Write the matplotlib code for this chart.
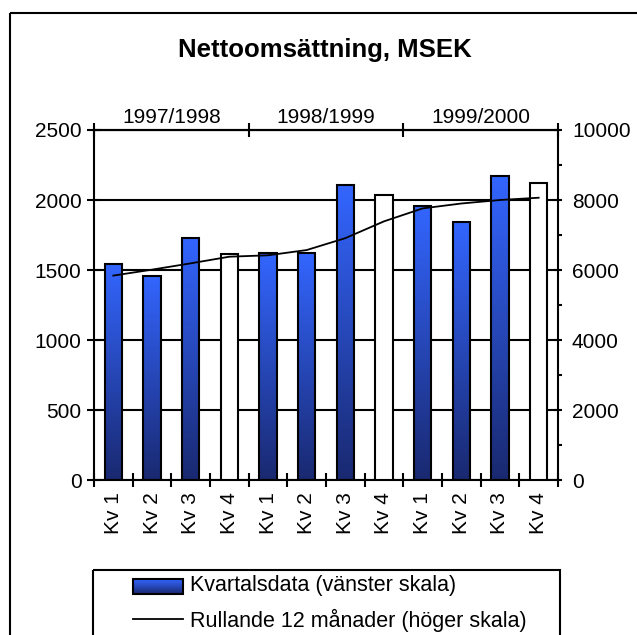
import numpy as np
import matplotlib
matplotlib.use('Agg')
import matplotlib.pyplot as plt
from matplotlib.patches import Rectangle
from matplotlib.ticker import MultipleLocator

plt.rcParams['font.family'] = ['Liberation Sans', 'DejaVu Sans']

quarters = ['Kv 1', 'Kv 2', 'Kv 3', 'Kv 4'] * 3
years = ['1997/1998', '1998/1999', '1999/2000']
kvartal = [1545, 1460, 1730, 1615, 1620, 1620, 2105, 2035, 1960, 1845, 2170, 2120]
rullande = [5840, 6010, 6190, 6380, 6420, 6570, 6910, 7390, 7760, 7900, 8000, 8065]

W, H = 637, 635
fig = plt.figure(figsize=(W / 100, H / 100), dpi=100)

# gradient used for the blue bars (top bright -> bottom dark)
top_c = np.array([0.20, 0.40, 1.00])
bot_c = np.array([0.10, 0.16, 0.44])
t = np.linspace(0, 1, 256)[:, None, None]
grad = top_c * (1 - t) + bot_c * t

# overlay axes in pixel coords for frame and legend
ax0 = fig.add_axes([0, 0, 1, 1], zorder=-1)
ax0.set_xlim(0, W)
ax0.set_ylim(H, 0)
ax0.axis('off')
ax0.add_patch(Rectangle((10, 13), 700, 700, fill=False, lw=1.5, ec='black'))
ax0.add_patch(Rectangle((93, 570), 467, 100, fill=False, lw=1.5, ec='black'))
ax0.imshow(grad, extent=[133, 183, 594, 579], aspect='auto', origin='upper', zorder=2)
ax0.add_patch(Rectangle((133, 579), 50, 15, fill=False, lw=1.5, ec='black', zorder=3))
ax0.plot([133, 183], [619, 619], color='black', lw=1.3)
ax0.text(190, 586, 'Kvartalsdata (vänster skala)', fontsize=15.5, va='center')
ax0.text(190, 620, 'Rullande 12 månader (höger skala)', fontsize=15.5, va='center')
ax0.set_xlim(0, W)
ax0.set_ylim(H, 0)

fig.text(325 / W, 1 - 50 / H, 'Nettoomsättning, MSEK', fontsize=18.5,
         fontweight='bold', ha='center', va='center')

ax = fig.add_axes([94 / W, 1 - 480 / H, (558 - 94) / W, 350 / H])
x = np.arange(len(kvartal))
bars = ax.bar(x, kvartal, width=0.45, edgecolor='black', lw=1.5, zorder=3,
              color=['none' if q != 'Kv 4' else 'white' for q in quarters])
for b, q in zip(bars, quarters):
    if q == 'Kv 4':
        continue
    x0 = b.get_x()
    im = ax.imshow(grad, extent=[x0, x0 + b.get_width(), 0, b.get_height()],
                   aspect='auto', origin='upper', zorder=2.5)
    im.set_clip_path(b)

ax.set_xlim(-0.5, len(kvartal) - 0.5)
ax.set_ylim(0, 2500)
ax.set_yticks(np.arange(0, 2501, 500))
ax.yaxis.grid(True, color='black', lw=1.5)
ax.set_axisbelow(True)
ax.set_xticks(np.arange(-0.5, len(kvartal), 1))
ax.set_xticklabels([])
ax.set_xticks(x, minor=True)
ax.set_xticklabels(quarters, minor=True, rotation=90, fontsize=15)
ax.tick_params(axis='x', which='major', direction='inout', length=10, width=1.5)
ax.tick_params(axis='x', which='minor', length=0, pad=9)
ax.tick_params(axis='y', direction='inout', length=10, width=1.5, labelsize=15, pad=4)
for s in ax.spines.values():
    s.set_linewidth(1.5)
ax.spines['right'].set_visible(False)

top = ax.secondary_xaxis('top')
top.set_xticks([-0.5, 3.5, 7.5, 11.5])
top.set_xticklabels([])
top.set_xticks([1.5, 5.5, 9.5], minor=True)
top.set_xticklabels(years, minor=True, fontsize=15)
top.tick_params(which='major', direction='inout', length=10, width=1.5)
top.tick_params(which='minor', length=0, pad=2)
top.spines['top'].set_linewidth(1.5)

ax2 = ax.twinx()
ax2.plot(x, rullande, color='black', lw=1.3, zorder=5)
ax2.set_ylim(0, 10000)
ax2.set_yticks(np.arange(0, 10001, 2000))
ax2.yaxis.set_minor_locator(MultipleLocator(1000))
ax2.tick_params(axis='y', which='major', direction='inout', length=6, width=1.5,
                labelsize=15, pad=7)
ax2.tick_params(axis='y', which='minor', direction='out', length=3, width=1.5)
for k in ['left', 'top', 'bottom']:
    ax2.spines[k].set_visible(False)
ax2.spines['right'].set_linewidth(1.5)

fig.savefig('out.png', dpi=100)
